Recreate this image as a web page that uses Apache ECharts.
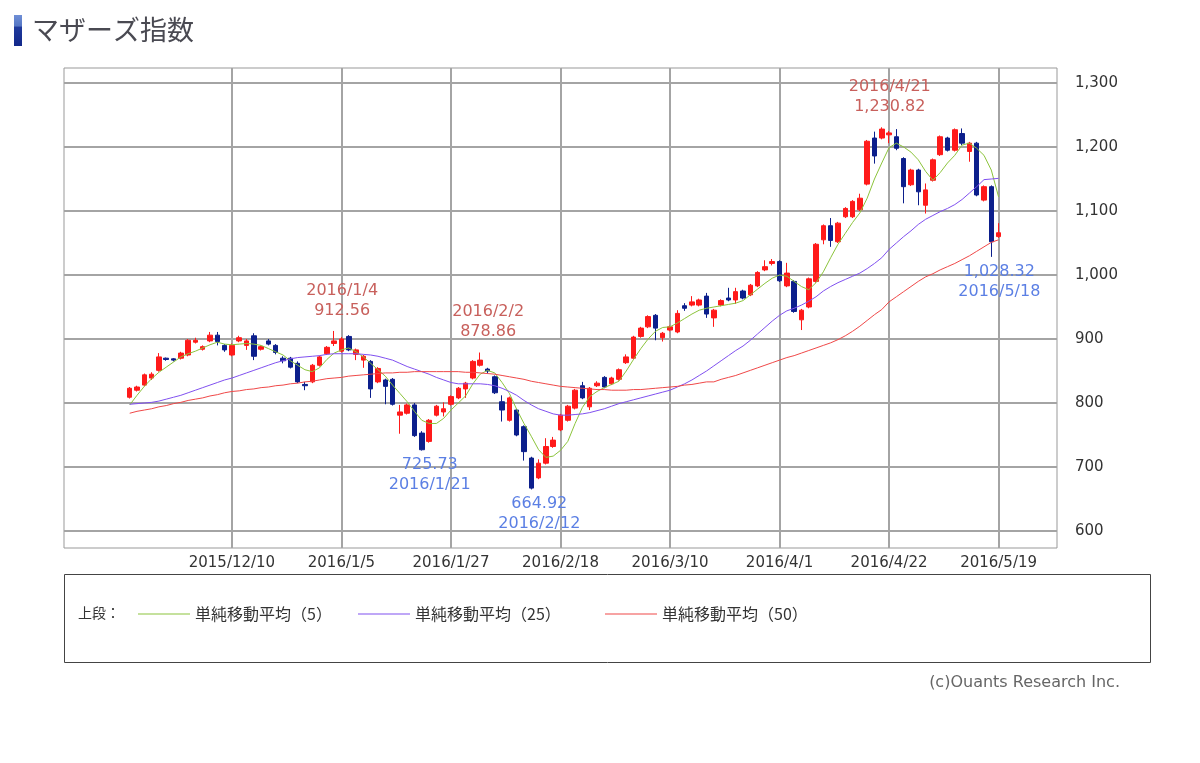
<!DOCTYPE html>
<html><head><meta charset="utf-8">
<script src="https://cdn.jsdelivr.net/npm/echarts@6/dist/echarts.min.js"></script>
<style>html,body{margin:0;padding:0;background:#fff}#c{width:1200px;height:763px}</style>
</head><body><div id="c"></div>
<script>
const dates = [
'2015/11/19','2015/11/20','2015/11/24','2015/11/25','2015/11/26','2015/11/27','2015/11/30',
'2015/12/1','2015/12/2','2015/12/3','2015/12/4','2015/12/7','2015/12/8','2015/12/9','2015/12/10','2015/12/11',
'2015/12/14','2015/12/15','2015/12/16','2015/12/17','2015/12/18','2015/12/21','2015/12/22','2015/12/24','2015/12/25',
'2015/12/28','2015/12/29','2015/12/30',
'2016/1/4','2016/1/5','2016/1/6','2016/1/7','2016/1/8','2016/1/12','2016/1/13','2016/1/14','2016/1/15',
'2016/1/18','2016/1/19','2016/1/20','2016/1/21','2016/1/22','2016/1/25','2016/1/26','2016/1/27','2016/1/28','2016/1/29',
'2016/2/1','2016/2/2','2016/2/3','2016/2/4','2016/2/5','2016/2/8','2016/2/9','2016/2/10','2016/2/12',
'2016/2/15','2016/2/16','2016/2/17','2016/2/18','2016/2/19','2016/2/22','2016/2/23','2016/2/24','2016/2/25','2016/2/26','2016/2/29',
'2016/3/1','2016/3/2','2016/3/3','2016/3/4','2016/3/7','2016/3/8','2016/3/9','2016/3/10','2016/3/11',
'2016/3/14','2016/3/15','2016/3/16','2016/3/17','2016/3/18','2016/3/22','2016/3/23','2016/3/24','2016/3/25',
'2016/3/28','2016/3/29','2016/3/30','2016/3/31',
'2016/4/1','2016/4/4','2016/4/5','2016/4/6','2016/4/7','2016/4/8','2016/4/11','2016/4/12','2016/4/13','2016/4/14','2016/4/15',
'2016/4/18','2016/4/19','2016/4/20','2016/4/21','2016/4/22','2016/4/25','2016/4/26','2016/4/27','2016/4/28',
'2016/5/2','2016/5/6','2016/5/9','2016/5/10','2016/5/11','2016/5/12','2016/5/13','2016/5/16','2016/5/17','2016/5/18','2016/5/19'
];
const opens = [809,820,828,839,851,870,869,870,875,895, 884,897,906,890,875,897,890,905,884,897,
890,870,870,862,829,833,859,877,893,881, 904,876,867,865,833,836,837,781,784,797,
753,740,781,786,798,808,822,839,859,853, 841,802,773,789,763,714,683,706,732,758,
773,792,827,794,827,840,830,837,863,870, 904,919,937,902,914,911,952,953,953,967,
933,953,964,961,975,969,983,1008,1018,1021, 983,990,930,950,990,1055,1077,1052,1091,1091,
1102,1142,1214,1214,1219,1216,1182,1141,1164,1109, 1148,1188,1214,1195,1221,1193,1206,1117,1138,1060];
const closes = [823,825,844,845,872,868,867,878,898,898, 888,906,896,883,890,902,897,873,888,892,
879,866,856,833,827,859,872,887,897,900, 883,883,873,822,854,826,798,786,797,749,
727,773,795,791,810,823,831,865,867,850, 816,789,808,750,724,667,706,732,742,781,
795,820,808,823,831,825,839,852,872,903, 917,935,917,909,919,940,948,958,961,939,
945,960,961,974,964,984,1004,1013,1021,991, 1003,943,945,994,1048,1077,1054,1081,1104,1115,
1120,1209,1186,1228,1222,1198,1138,1164,1130,1133, 1180,1216,1195,1227,1206,1206,1125,1138,1052,1066];
const lows = [807,818,826,836,849,866,865,868,873,893, 882,895,890,880,873,895,883,867,882,890,
876,862,854,831,820,831,857,875,889,879, 881,867,855,808,831,798,796,752,782,747,
725.73,738,779,779,796,806,808,837,857,846, 814,771,771,748,710,664.92,681,704,730,756,
771,790,806,789,825,823,828,835,861,868, 902,917,898,896,912,909,944,951,951,933,
919,951,959,955,962,967,981,1006,1015,989, 981,941,914,948,988,1048,1044,1050,1089,1089,
1100,1140,1174,1212,1206,1195,1112,1139,1109,1096, 1146,1186,1193,1193,1203,1177,1123,1115,1028.32,1058];
const highs = [825,827,846,848,878,871,870,880,900,902, 890,911,911,892,893,905,900,909,890,900,
892,873,872,865,833,861,874,889,912.56,903, 906,885,875,867,856,838,839,797,799,800,
756,775,797,801,812,825,833,867,878.86,855, 843,812,810,791,765,716,712,745,747,783,
797,822,833,825,834,842,841,854,876,905, 919,937,939,911,921,945,956,967,963,972,
947,962,980,980,977,986,1006,1023,1025,1023, 1019,992,947,996,1050,1079,1089,1083,1106,1117,
1127,1211,1224,1230.82,1225,1228,1184,1166,1166,1143, 1182,1218,1216,1229,1229,1208,1208,1140,1140,1081];
const ma5 = [797,812,826,838,848,856,864,872,877,881, 886,891,895,892,891,892,893,892,890,885,
880,875,866,859,852,849,855,868,878,883, 886,880,872,862,852,842,828,815,802,787,
773,768,768,776,789,800,811,830,845,851, 847,832,815,790,768,748,727,715,717,726,
740,768,793,810,818,824,829,834,850,868, 885,900,912,918,919,925,932,939,945,948,
950,952,954,956,960,969,978,987,995,1000, 998,990,982,977,988,1005,1027,1048,1065,1082,
1097,1120,1150,1175,1199,1206,1200,1192,1180,1162, 1148,1160,1175,1187,1203,1206,1198,1187,1164,1122];
const ma25 = [798,799,800,801,803,806,809,812,816,820, 824,828,832,836,839,843,847,851,855,859,
863,866,869,871,872,873,874,876,877,877, 877,877,876,875,873,870,867,862,857,853,
849,845,840,836,832,830,830,830,830,829, 827,823,818,812,804,797,791,787,783,781,
781,782,783,785,788,791,795,799,802,805, 808,811,814,817,820,825,830,836,843,850,
858,866,874,882,889,898,908,918,928,937, 944,948,953,959,966,975,982,988,993,998,
1003,1010,1018,1027,1040,1050,1060,1069,1079,1087, 1093,1099,1104,1110,1118,1128,1138,1149,1150,1151];
const ma50 = [784,787,789,791,794,796,799,801,804,806, 808,811,813,816,818,819,821,822,824,825,
827,828,830,831,833,834,836,838,839,840, 842,843,844,845,846,847,847,848,848,849,
849,849,849,849,849,849,848,848,847,846, 845,843,841,839,837,834,832,830,828,826,
825,824,823,822,821,821,820,820,820,821, 821,822,823,824,825,826,828,829,831,833,
833,837,840,843,847,851,855,859,863,867, 871,874,878,882,886,890,894,899,905,912,
920,929,938,946,958,966,974,982,990,997, 1002,1008,1013,1018,1024,1030,1037,1044,1051,1055];
const xTickLabels = ['2015/12/10','2016/1/5','2016/1/27','2016/2/18','2016/3/10','2016/4/1','2016/4/22','2016/5/19'];
const yTicks = [600,700,800,900,1000,1100,1200,1300];
const highNoteDates = ['2016/1/4','2016/2/2','2016/4/21'];
const highNoteValues = [912.56,878.86,1230.82];
const lowNoteDates = ['2016/1/21','2016/2/12','2016/5/18'];
const lowNoteValues = [725.73,664.92,1028.32];
const maNames = ['単純移動平均（5）','単純移動平均（25）','単純移動平均（50）'];
const maColors = ['#8cc43c','#8050f0','#f04848'];

const PAD_L = 9, PAD_R = 8;
const cats = [];
for (let i = 0; i < PAD_L; i++) cats.push('L' + i);
dates.forEach(d => cats.push(d));
for (let i = 0; i < PAD_R; i++) cats.push('R' + i);

const fmt = v => v.toLocaleString('en-US', {minimumFractionDigits: 2, maximumFractionDigits: 2});
const isTick = (idx, val) => xTickLabels.indexOf(val) >= 0;
const candle = dates.map((d, i) => [d, opens[i], closes[i], lows[i], highs[i]]);
const lineData = arr => dates.map((d, i) => [d, arr[i]]);

const NUM_FONT = 'DejaVu Sans';
const JP_FONT = 'Noto Sans CJK JP';
const GRID_COLOR = '#a4a4a4';

const markHigh = highNoteDates.map((d, i) => ({
  coord: [d, highNoteValues[i]],
  label: {show: true, position: 'top', distance: 10, formatter: d + '\n' + fmt(highNoteValues[i]),
    color: '#c8605c', fontSize: 16, lineHeight: 20, fontFamily: NUM_FONT, offset: [8, 0]}
}));
const markLow = lowNoteDates.map((d, i) => ({
  coord: [d, lowNoteValues[i]],
  label: {show: true, position: 'bottom', distance: 4, formatter: fmt(lowNoteValues[i]) + '\n' + d,
    color: '#5b7fe4', fontSize: 16, lineHeight: 20, fontFamily: NUM_FONT, offset: [8, 0]}
}));

const legendLefts = [133, 353, 600];
const legends = maNames.map((n, i) => ({
  data: [{name: n, icon: 'rect'}], left: legendLefts[i], top: 601, itemWidth: 52, itemHeight: 1,
  itemStyle: {color: maColors[i]},
  textStyle: {color: '#333', fontSize: 16, fontFamily: JP_FONT, padding: [0, 0, 0, 0]}
}));

const chart = echarts.init(document.getElementById('c'), null, {renderer: 'canvas'});
chart.setOption({
  animation: false,
  backgroundColor: '#fff',
  grid: [
    {left: 64, top: 83, width: 993, height: 448, show: false},
    {left: 64, top: 68, width: 993, height: 480, show: true, borderColor: '#999', borderWidth: 1, backgroundColor: 'transparent'}
  ],
  xAxis: [
    {type: 'category', gridIndex: 0, data: cats, boundaryGap: false, show: false},
    {type: 'category', gridIndex: 1, data: cats, boundaryGap: false,
      axisLine: {show: false}, axisTick: {show: false},
      splitLine: {show: true, interval: isTick, lineStyle: {color: GRID_COLOR, width: 2}},
      axisLabel: {interval: isTick, color: '#333', fontSize: 15, fontFamily: NUM_FONT, margin: 8}}
  ],
  yAxis: [
    {type: 'value', gridIndex: 0, position: 'right', min: yTicks[0], max: yTicks[yTicks.length - 1], interval: 100,
      axisLine: {show: false}, axisTick: {show: false},
      splitLine: {show: true, lineStyle: {color: GRID_COLOR, width: 2}},
      axisLabel: {color: '#333', fontSize: 15, fontFamily: NUM_FONT, margin: 18,
        formatter: v => v.toLocaleString('en-US')}},
    {type: 'value', gridIndex: 1, show: false, min: 0, max: 1, splitLine: {show: false}}
  ],
  legend: legends,
  series: [
    {type: 'candlestick', name: 'マザーズ指数', xAxisIndex: 0, yAxisIndex: 0, data: candle,
      encode: {x: 0, y: [1, 2, 3, 4]}, barWidth: 5,
      itemStyle: {color: '#ff1a1a', color0: '#0c1f8c', borderColor: '#ff1a1a', borderColor0: '#0c1f8c', borderWidth: 1},
      markPoint: {symbol: 'circle', symbolSize: 1, itemStyle: {color: 'rgba(0,0,0,0)'},
        data: markHigh.concat(markLow)}, z: 3},
    {type: 'line', name: maNames[0], xAxisIndex: 0, yAxisIndex: 0, data: lineData(ma5),
      symbol: 'none', lineStyle: {color: maColors[0], width: 1}, itemStyle: {color: maColors[0]}, z: 4},
    {type: 'line', name: maNames[1], xAxisIndex: 0, yAxisIndex: 0, data: lineData(ma25),
      symbol: 'none', lineStyle: {color: maColors[1], width: 1}, itemStyle: {color: maColors[1]}, z: 4},
    {type: 'line', name: maNames[2], xAxisIndex: 0, yAxisIndex: 0, data: lineData(ma50),
      symbol: 'none', lineStyle: {color: maColors[2], width: 1}, itemStyle: {color: maColors[2]}, z: 4}
  ],
  graphic: [
    {type: 'rect', shape: {x: 14, y: 15, width: 8, height: 31},
      style: {fill: new echarts.graphic.LinearGradient(0, 0, 0, 1, [
        {offset: 0, color: '#6f8fd6'}, {offset: 0.35, color: '#5576c4'}, {offset: 0.4, color: '#1f3a9c'}, {offset: 1, color: '#12288a'}])}},
    {type: 'text', x: 32, y: 30, style: {text: 'マザーズ指数', fill: '#4a4a52', font: '27px "Noto Sans CJK JP"', textVerticalAlign: 'middle', verticalAlign: 'middle'}},
    {type: 'rect', shape: {x: 64.5, y: 574.5, width: 1086, height: 88},
      style: {fill: 'none', stroke: '#444', lineWidth: 1}},
    {type: 'text', x: 78, y: 613, style: {text: '上段：', fill: '#333', font: '14px "Noto Sans CJK JP"', verticalAlign: 'middle'}},
    {type: 'text', x: 1120, y: 683, style: {text: '(c)Ouants Research Inc.', fill: '#666', font: '16px "DejaVu Sans"', align: 'right', verticalAlign: 'middle'}}
  ]
});
</script></body></html>
